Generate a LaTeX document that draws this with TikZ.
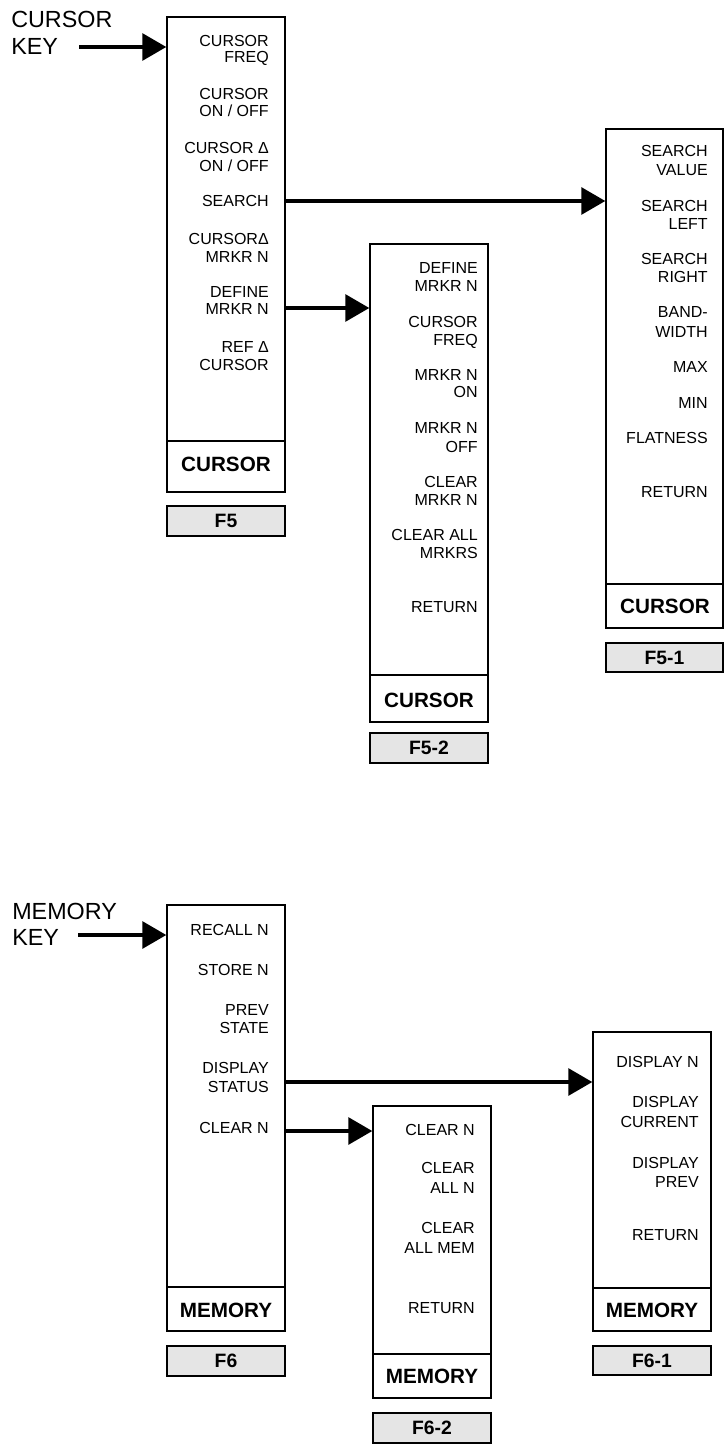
\documentclass[tikz,border=0pt]{standalone}
\usepackage{fontspec}
\setmainfont{Liberation Sans}
\usetikzlibrary{arrows.meta,fit}
\begin{document}
\begin{tikzpicture}[x=0.75pt,y=-0.75pt,
 menubox/.style={draw, line width=1pt, inner sep=0pt},
 item/.style={anchor=base east, inner sep=0pt, font=\fontsize{12}{14}\selectfont},
 title/.style={anchor=base, inner sep=0pt, font=\bfseries\fontsize{15.5}{18}\selectfont},
 fkey/.style={draw, line width=1pt, fill=black!10, inner sep=0pt},
 fkeytxt/.style={inner sep=0pt, font=\bfseries\fontsize{14.5}{17}\selectfont},
 keytxt/.style={anchor=base west, inner sep=0pt, font=\fontsize{17.5}{20}\selectfont},
 divider/.style={line width=1pt},
 conn/.style={line width=3pt, -{Triangle[length=18pt,width=20pt]}}
]
\useasboundingbox (0,0) rectangle (726,1444);

% ---------------- CURSOR section ----------------
\node[keytxt] (ck1) at (11,28) {CURSOR};
\node[keytxt] (ck2) at (11,55) {KEY};

% F5 main
\node[menubox, fit={(167,17) (285,492)}] (f5) {};
\draw[divider] (167,441) -- (285,441);
\node[title] (f5t) at (226,471) {CURSOR};
\node[fkey, fit={(167,506) (285,536)}] (f5k) {};
\node[fkeytxt] (f5kt) at (f5k.center) {F5};
\foreach \yy/\lbl [count=\i] in {47/CURSOR, 63/FREQ, 100/CURSOR, 117/{ON / OFF},
  154/CURSOR Δ, 172/{ON / OFF}, 207/SEARCH, 245/CURSORΔ, 263/MRKR N,
  298/DEFINE, 315/MRKR N, 352/REF Δ, 370/CURSOR}
  \node[item] (f5i\i) at (269,\yy) {\lbl};

% F5-2
\node[menubox, fit={(370,244) (488,722)}] (f52) {};
\draw[divider] (370,675) -- (488,675);
\node[title] (f52t) at (429,707) {CURSOR};
\node[fkey, fit={(370,733) (488,763)}] (f52k) {};
\node[fkeytxt] (f52kt) at (f52k.center) {F5-2};
\foreach \yy/\lbl [count=\i] in {274/DEFINE, 292/MRKR N, 327/CURSOR, 345/FREQ,
  380/MRKR N, 397/ON, 433/MRKR N, 452/OFF, 487/CLEAR, 505/MRKR N,
  540/CLEAR ALL, 558/MRKRS, 612/RETURN}
  \node[item] (f52i\i) at (478,\yy) {\lbl};

% F5-1
\node[menubox, fit={(606,129) (723,628)}] (f51) {};
\draw[divider] (606,584) -- (723,584);
\node[title] (f51t) at (665,613) {CURSOR};
\node[fkey, fit={(606,643) (723,672)}] (f51k) {};
\node[fkeytxt] (f51kt) at (f51k.center) {F5-1};
\foreach \yy/\lbl [count=\i] in {157/SEARCH, 176/VALUE, 212/SEARCH, 230/LEFT,
  265/SEARCH, 283/RIGHT, 318/BAND-, 337/WIDTH, 372/MAX, 408/MIN,
  443/FLATNESS, 497/RETURN}
  \node[item] (f51i\i) at (708,\yy) {\lbl};

% connectors
\coordinate (ca) at (79,47);
\coordinate (cb) at (285,201);
\coordinate (cc) at (285,308);
\draw[conn] (ca) -- (ca -| f5.west);
\draw[conn] (cb) -- (cb -| f51.west);
\draw[conn] (cc) -- (cc -| f52.west);

% ---------------- MEMORY section ----------------
\node[keytxt] (mk1) at (12,919) {MEMORY};
\node[keytxt] (mk2) at (12,945) {KEY};

% F6
\node[menubox, fit={(167,905) (285,1331)}] (f6) {};
\draw[divider] (167,1287) -- (285,1287);
\node[title] (f6t) at (226,1317) {MEMORY};
\node[fkey, fit={(167,1346) (285,1376)}] (f6k) {};
\node[fkeytxt] (f6kt) at (f6k.center) {F6};
\foreach \yy/\lbl [count=\i] in {935/RECALL N, 975/STORE N, 1015/PREV, 1033/STATE,
  1073/DISPLAY, 1092/STATUS, 1133/CLEAR N}
  \node[item] (f6i\i) at (269,\yy) {\lbl};

% F6-2
\node[menubox, fit={(373,1106) (491,1398)}] (f62) {};
\draw[divider] (373,1354) -- (491,1354);
\node[title] (f62t) at (432,1383) {MEMORY};
\node[fkey, fit={(373,1413) (491,1443)}] (f62k) {};
\node[fkeytxt] (f62kt) at (f62k.center) {F6-2};
\foreach \yy/\lbl [count=\i] in {1135/CLEAR N, 1173/CLEAR, 1193/ALL N, 1233/CLEAR,
  1253/ALL MEM, 1313/RETURN}
  \node[item] (f62i\i) at (475,\yy) {\lbl};

% F6-1
\node[menubox, fit={(593,1032) (711,1331)}] (f61) {};
\draw[divider] (593,1288) -- (711,1288);
\node[title] (f61t) at (652,1317) {MEMORY};
\node[fkey, fit={(593,1346) (711,1375)}] (f61k) {};
\node[fkeytxt] (f61kt) at (f61k.center) {F6-1};
\foreach \yy/\lbl [count=\i] in {1067/DISPLAY N, 1107/DISPLAY, 1127/CURRENT,
  1168/DISPLAY, 1187/PREV, 1240/RETURN}
  \node[item] (f61i\i) at (699,\yy) {\lbl};

% connectors
\coordinate (ma) at (78,935);
\coordinate (mb) at (285,1082);
\coordinate (mc) at (285,1131);
\draw[conn] (ma) -- (ma -| f6.west);
\draw[conn] (mb) -- (mb -| f61.west);
\draw[conn] (mc) -- (mc -| f62.west);
\end{tikzpicture}
\end{document}
